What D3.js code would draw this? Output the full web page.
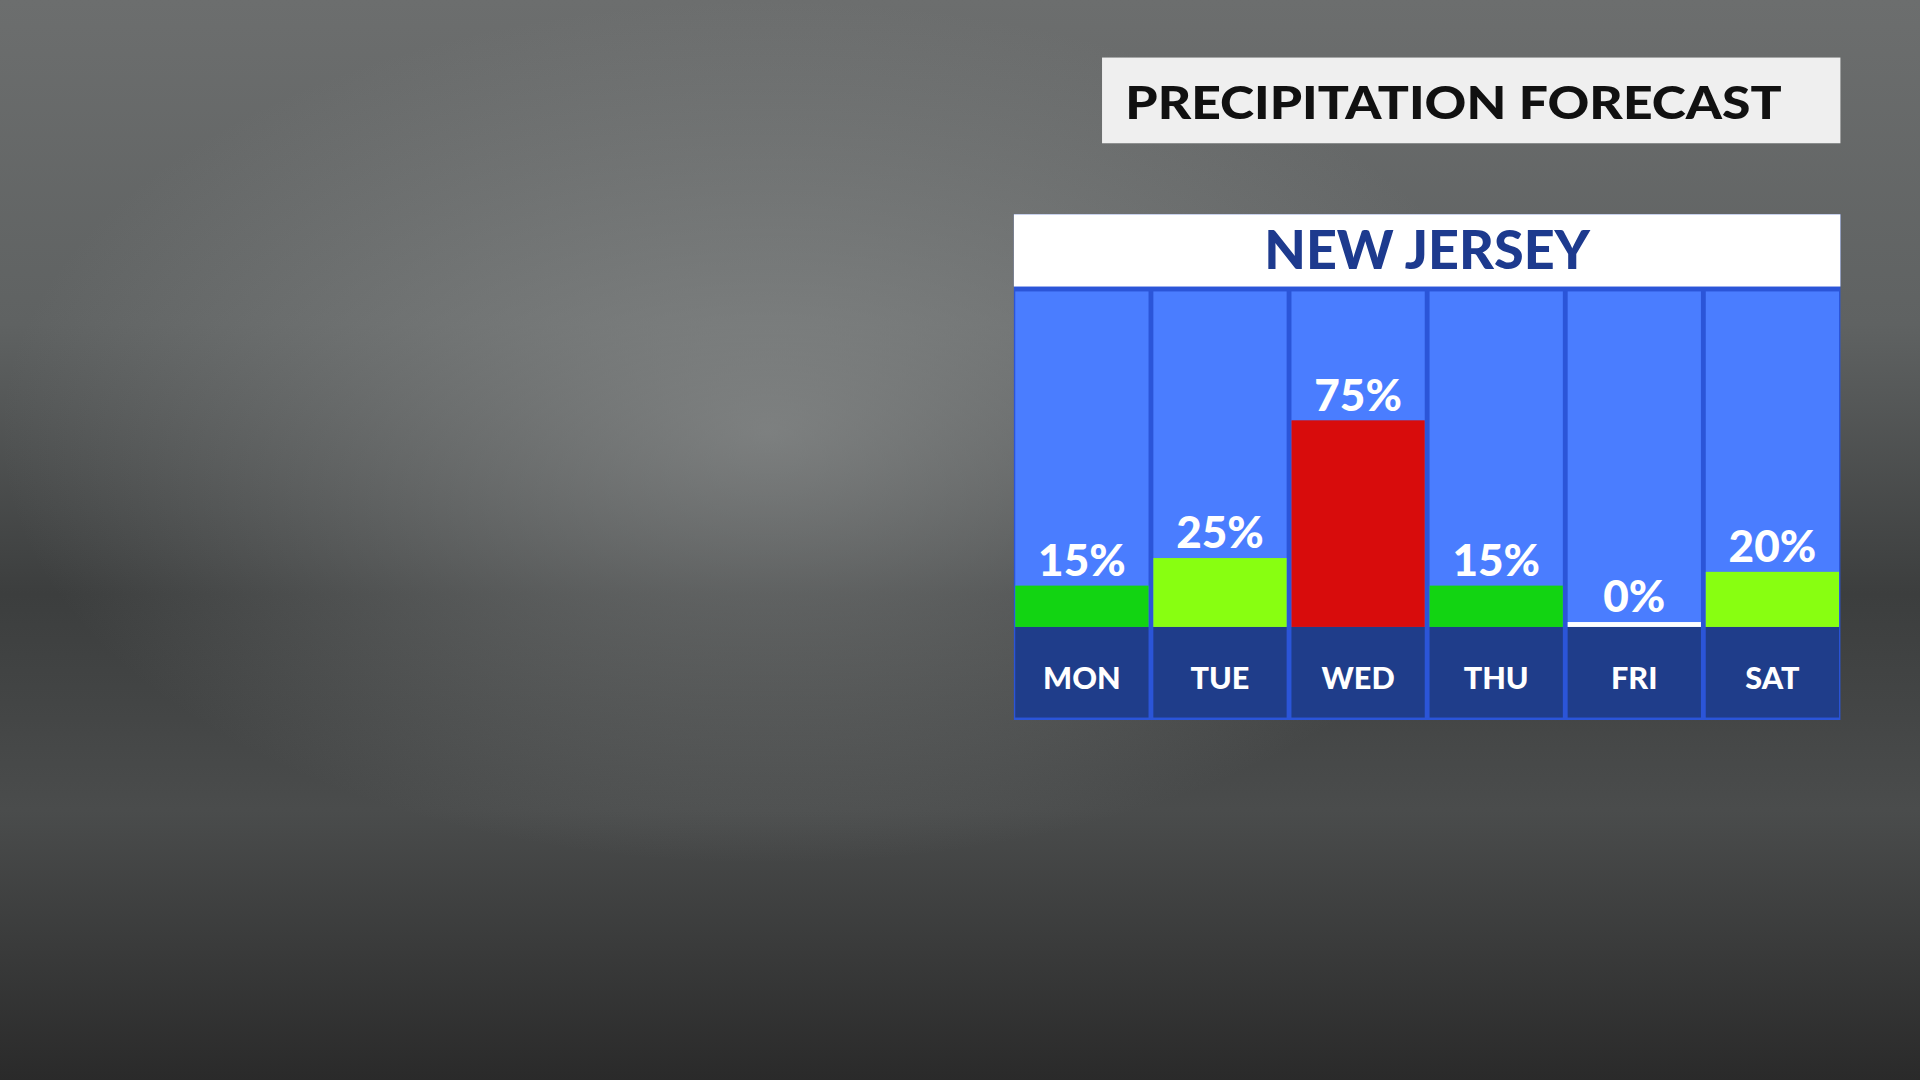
<!DOCTYPE html>
<html><head><meta charset="utf-8">
<script src="https://cdn.jsdelivr.net/npm/d3@7"></script>
<style>html,body{margin:0;padding:0;overflow:hidden;background:#333}</style>
</head><body>
<script>
const days = ["MON","TUE","WED","THU","FRI","SAT"];
const chances = [15,25,75,15,0,20];
const valueLabels = ["15%","25%","75%","15%","0%","20%"];
const title = "PRECIPITATION FORECAST";
const region = "NEW JERSEY";

const svg = d3.select("body").append("svg")
  .attr("width",1920).attr("height",1080).attr("viewBox","0 0 1568 882");
const defs = svg.append("defs");
const g = defs.append("linearGradient").attr("id","sky").attr("x1",0).attr("y1",0).attr("x2",0).attr("y2",1);
[[0,"#6c6e6e"],[0.3,"#5f6262"],[0.55,"#3c3e3e"],[0.75,"#4a4c4c"],[1,"#2a2a2a"]].forEach(([o,c])=>g.append("stop").attr("offset",o).attr("stop-color",c));
const r = defs.append("radialGradient").attr("id","glow").attr("cx",0.4).attr("cy",0.4).attr("r",0.4);
r.append("stop").attr("offset",0).attr("stop-color","#9a9d9d").attr("stop-opacity",0.6);
r.append("stop").attr("offset",1).attr("stop-color","#9a9d9d").attr("stop-opacity",0);
svg.append("rect").attr("width",1568).attr("height",882).attr("fill","url(#sky)");
svg.append("rect").attr("width",1568).attr("height",882).attr("fill","url(#glow)");

const font = "Lato, 'Open Sans', sans-serif";
svg.append("rect").attr("x",900).attr("y",47).attr("width",603).attr("height",70).attr("fill","#efefef");
svg.append("text").attr("x",919).attr("y",97).attr("font-family",font).attr("font-weight",900)
  .attr("font-size",38).attr("fill","#111").attr("textLength",536).attr("lengthAdjust","spacingAndGlyphs").text(title);

const left=828, right=1503;
svg.append("rect").attr("x",left).attr("y",175).attr("width",right-left).attr("height",413).attr("fill","#2b55d8");
svg.append("rect").attr("x",left).attr("y",175).attr("width",right-left).attr("height",59).attr("fill","#ffffff");
svg.append("text").attr("x",(left+right)/2).attr("y",220).attr("text-anchor","middle").attr("font-family",font)
  .attr("font-weight",900).attr("font-size",44).attr("fill","#1d3a8e").text(region);

const x = d3.scaleBand().domain(days).range([left,right]).paddingInner(0.035).paddingOuter(0.01);
const y = d3.scaleLinear().domain([0,100]).range([512,287]);
const color = v => v>=50 ? "#d80c0c" : v>=20 ? "#88ff11" : v>0 ? "#12d412" : "#ffffff";

const col = svg.append("g").selectAll("g").data(days).join("g");
col.append("rect").attr("x",d=>x(d)).attr("y",238).attr("width",x.bandwidth()).attr("height",274).attr("fill","#4a7dff");
col.append("rect").attr("x",d=>x(d)).attr("y",512).attr("width",x.bandwidth()).attr("height",74).attr("fill","#1f3d8a");
col.append("rect").attr("x",(d,i)=>x(d)).attr("width",x.bandwidth())
  .attr("y",(d,i)=>chances[i]>0?y(chances[i]):y(0)-4)
  .attr("height",(d,i)=>chances[i]>0?y(0)-y(chances[i]):4)
  .attr("fill",(d,i)=>color(chances[i]));
col.append("text").attr("x",d=>x(d)+x.bandwidth()/2).attr("y",(d,i)=>(chances[i]>0?y(chances[i]):y(0)-4)-8)
  .attr("text-anchor","middle").attr("font-family",font).attr("font-weight",900).attr("font-size",36)
  .attr("fill","#fff").text((d,i)=>valueLabels[i]);
col.append("text").attr("x",d=>x(d)+x.bandwidth()/2).attr("y",563)
  .attr("text-anchor","middle").attr("font-family",font).attr("font-weight",900).attr("font-size",25)
  .attr("fill","#fff").text(d=>d);
</script>
</body></html>
